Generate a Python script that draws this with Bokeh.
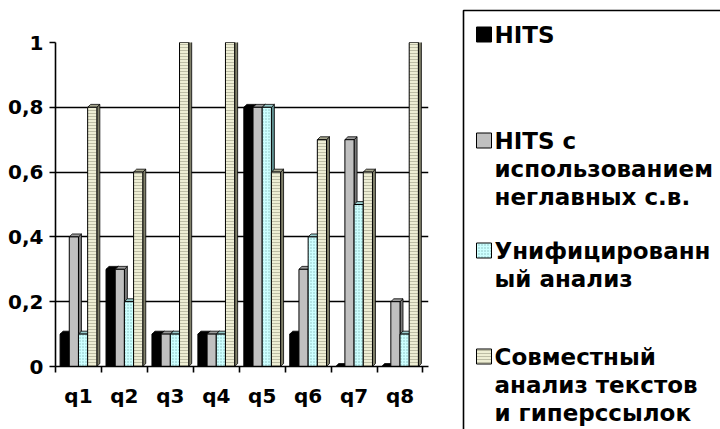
from bokeh.plotting import figure
from bokeh.models import FixedTicker, Range1d, ColumnDataSource
from bokeh.embed import file_html
from bokeh.resources import INLINE
from bokeh.core.properties import value

# ---------------- data ----------------
categories = ["q1", "q2", "q3", "q4", "q5", "q6", "q7", "q8"]
hits = [0.1, 0.3, 0.1, 0.1, 0.8, 0.1, 0.0, 0.0]
hits_nonmain = [0.4, 0.3, 0.1, 0.1, 0.8, 0.3, 0.7, 0.2]
unified = [0.1, 0.2, 0.1, 0.1, 0.8, 0.4, 0.5, 0.1]
joint = [0.8, 0.6, 1.0, 1.0, 0.6, 0.7, 0.6, 1.0]
y_ticks = [0, 0.2, 0.4, 0.6, 0.8, 1.0]
y_tick_labels = ["0", "0,2", "0,4", "0,6", "0,8", "1"]
legend_lines = [
    ["HITS"],
    ["HITS с", "использованием", "неглавных с.в."],
    ["Унифицированн", "ый анализ"],
    ["Совместный", "анализ текстов", "и гиперссылок"],
]

series = [hits, hits_nonmain, unified, joint]

# ---------------- styles ----------------
FONT = "DejaVu Sans"
styles = [
    dict(front="#000000", side="#000000", top="#000000", hatch=None, hcolor=None),
    dict(front="#C0C0C0", side="#7A7A7A", top="#9A9A9A", hatch=None, hcolor=None),
    dict(front="#CCFFFF", side="#5F8F8F", top="#99CCCC", hatch="dot", hcolor="#88BBBB"),
    dict(front="#EEEED4", side="#80806A", top="#A8A890", hatch="horizontal_line", hcolor="#BDBDA5"),
]
offsets = [-0.3, -0.1, 0.1, 0.3]
bar_w = 0.2
dx = 0.065   # 3D depth (x, category units)
dy = 0.009   # 3D depth (y, value units)

W, H = 720, 429
BL, BR, BT, BB = 55, 292, 42, 63

p = figure(width=W, height=H, x_range=Range1d(0, 8.12), y_range=Range1d(0, 1),
           output_backend="svg", toolbar_location=None,
           min_border_left=BL, min_border_right=BR, min_border_top=BT, min_border_bottom=BB)
p.outline_line_color = None
p.background_fill_color = "white"
p.border_fill_color = "white"
p.xgrid.visible = False
p.ygrid.ticker = FixedTicker(ticks=y_ticks[1:])
p.ygrid.grid_line_color = "black"
p.ygrid.grid_line_width = 1.6

for k, vals in enumerate(series):
    st = styles[k]
    xc = [i + 0.5 + offsets[k] for i in range(len(categories))]
    left = [x - bar_w / 2 for x in xc]
    right = [x + bar_w / 2 for x in xc]
    side_xs = [[r, r + dx, r + dx, r] for r in right]
    side_ys = [[0, dy, v + dy, v] for v in vals]
    top_xs = [[l, l + dx, r + dx, r] for l, r in zip(left, right)]
    top_ys = [[v, v + dy, v + dy, v] for v in vals]
    p.patches(xs=side_xs, ys=side_ys, fill_color=st["side"], line_color="black", line_width=0.8)
    p.patches(xs=top_xs, ys=top_ys, fill_color=st["top"], line_color="black", line_width=0.8)
    src = ColumnDataSource(dict(left=left, right=right, top=vals, bottom=[0] * len(vals)))
    kw = dict(fill_color=st["front"], line_color="black", line_width=1)
    if st["hatch"]:
        kw.update(hatch_pattern=st["hatch"], hatch_color=st["hcolor"], hatch_scale=3, hatch_weight=1)
    p.quad(left="left", right="right", top="top", bottom="bottom", source=src, **kw)

# axes
xa = p.xaxis[0]
xa.ticker = FixedTicker(ticks=[i + 0.5 for i in range(len(categories))],
                        minor_ticks=list(range(len(categories) + 1)))
xa.major_label_overrides = {i + 0.5: c for i, c in enumerate(categories)}
xa.major_tick_out = 0
xa.major_tick_in = 0
xa.minor_tick_out = 6
xa.minor_tick_in = 0
xa.minor_tick_line_color = "black"
xa.minor_tick_line_width = 1.6
xa.axis_line_width = 1.6
xa.major_label_standoff = 11

ya = p.yaxis[0]
ya.ticker = FixedTicker(ticks=y_ticks, minor_ticks=[])
ya.major_label_overrides = {t: l for t, l in zip(y_ticks, y_tick_labels)}
ya.major_tick_out = 6
ya.major_tick_in = 0
ya.major_tick_line_width = 1.6
ya.axis_line_width = 1.6
ya.major_label_standoff = 6

for ax in (xa, ya):
    ax.major_label_text_font = FONT
    ax.major_label_text_font_style = "bold"
    ax.major_label_text_font_size = "20px"
    ax.major_label_text_color = "black"
    ax.axis_line_color = "black"
    ax.major_tick_line_color = "black"

# ---------------- legend (pixel-mapped extra ranges, drawn unclipped) ----------------
p.extra_x_ranges = {"px": Range1d(BL, W - BR)}
p.extra_y_ranges = {"py": Range1d(H - BB, BT)}
lk = dict(x_range_name="px", y_range_name="py", level="overlay")

p.quad(left=463, right=740, top=10, bottom=460, fill_color=None,
       line_color="black", line_width=1.6, **lk)

entry_y = [34, 140, 250, 356]
line_pitch = 28
for k, lines in enumerate(legend_lines):
    st = styles[k]
    y0 = entry_y[k]
    kw = dict(fill_color=st["front"], line_color="black", line_width=1)
    if st["hatch"]:
        kw.update(hatch_pattern=st["hatch"], hatch_color=st["hcolor"], hatch_scale=3, hatch_weight=1)
    p.quad(left=476, right=491, top=y0 - 7.5, bottom=y0 + 7.5, **kw, **lk)
    p.text(x=[494] * len(lines), y=[y0 + j * line_pitch for j in range(len(lines))], text=lines,
           text_font=value(FONT), text_font_style="bold", text_font_size="23px",
           text_baseline="middle", text_align="left", text_color="black", **lk)

open("out.html", "w").write(file_html(p, INLINE))
